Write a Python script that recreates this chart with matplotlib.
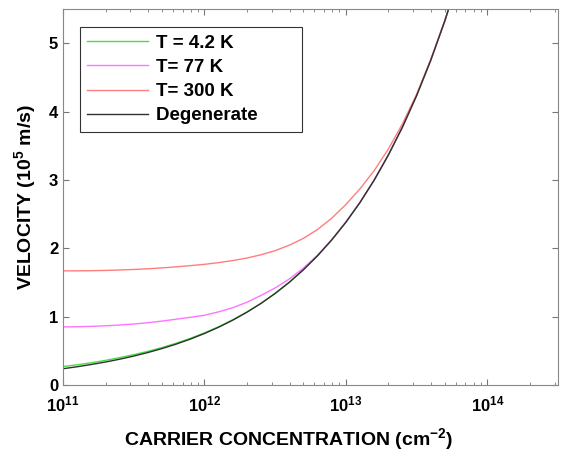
#!/usr/bin/env python3
"""Carrier velocity vs sheet carrier concentration at several temperatures."""

import matplotlib
import matplotlib.pyplot as plt
import numpy as np

matplotlib.use("Agg")

plt.rcParams["font.family"] = ["Liberation Sans", "DejaVu Sans"]
plt.rcParams["font.weight"] = "bold"
plt.rcParams["mathtext.fontset"] = "custom"
plt.rcParams["mathtext.rm"] = "Liberation Sans:bold"
plt.rcParams["mathtext.it"] = "Liberation Sans:bold"
plt.rcParams["mathtext.bf"] = "Liberation Sans:bold"

# log10 of carrier concentration (cm^-2)
log_n = [11.0, 11.1, 11.2, 11.3, 11.4, 11.5, 11.6, 11.7, 11.8, 11.9,
         12.0, 12.1, 12.2, 12.3, 12.4, 12.5, 12.6, 12.7, 12.8, 12.9,
         13.0, 13.1, 13.2, 13.3, 13.4, 13.5, 13.6, 13.7, 13.8]

# velocity in 1e5 m/s
v_4k = [0.270, 0.295, 0.325, 0.360, 0.400, 0.443, 0.492, 0.548, 0.611, 0.682,
        0.762, 0.852, 0.954, 1.068, 1.196, 1.341, 1.503, 1.686, 1.891, 2.122,
        2.380, 2.670, 2.996, 3.362, 3.772, 4.232, 4.749, 5.328, 5.978]
v_77k = [0.850, 0.852, 0.858, 0.866, 0.877, 0.892, 0.911, 0.935, 0.962, 0.990,
         1.020, 1.070, 1.130, 1.210, 1.310, 1.420, 1.550, 1.710, 1.900, 2.125,
         2.385, 2.672, 2.996, 3.362, 3.772, 4.232, 4.749, 5.328, 5.978]
v_300k = [1.670, 1.670, 1.672, 1.676, 1.682, 1.690, 1.700, 1.713, 1.728, 1.746,
          1.765, 1.790, 1.820, 1.857, 1.905, 1.965, 2.045, 2.145, 2.275, 2.440,
          2.640, 2.870, 3.135, 3.450, 3.820, 4.250, 4.760, 5.330, 5.978]
v_degen = [0.238, 0.267, 0.300, 0.336, 0.377, 0.423, 0.475, 0.533, 0.598, 0.671,
           0.753, 0.845, 0.948, 1.064, 1.193, 1.339, 1.502, 1.686, 1.891, 2.122,
           2.380, 2.670, 2.996, 3.362, 3.772, 4.232, 4.749, 5.328, 5.978]

# trailing spaces widen the legend box like the original
SERIES = [
    ("T = 4.2 K", v_4k, "#44dd44"),
    ("T= 77 K", v_77k, "#ff73ff"),
    ("T= 300 K", v_300k, "#ff7d7d"),
    ("Degenerate       ", v_degen, "#303030"),
]

fig = plt.figure(figsize=(5.61, 4.53), dpi=100)
ax = fig.add_axes([63 / 561, 68 / 453, 495 / 561, 376 / 453])

n = np.power(10.0, log_n)
for label, v, colour in SERIES:
    ax.plot(n, v, color=colour, lw=1.0, label=label)

ax.set_xscale("log")
ax.set_xlim(1e11, 10 ** 14.5)
ax.set_ylim(0, 5.5)
ax.set_yticks([0, 1, 2, 3, 4, 5])

ax.tick_params(which="both", direction="in", top=True, right=True,
               colors="#777777", labelcolor="black", labelsize=12)
ax.tick_params(which="major", length=4)
ax.tick_params(which="minor", length=2.5)
ax.tick_params(axis="x", pad=7)
for side in ax.spines.values():
    side.set_color("#888888")

ax.set_xlabel("CARRIER CONCENTRATION (cm$^{-2}$)", fontsize=14, fontweight="bold")
ax.set_ylabel("VELOCITY (10$^{5}$ m/s)", fontsize=14, fontweight="bold")
ax.xaxis.set_label_coords(0.455, -0.11)
ax.yaxis.set_label_coords(-0.05, 0.5)

leg = ax.legend(loc="upper left", bbox_to_anchor=(0.034, 0.952), fancybox=False,
                edgecolor="black", prop={"size": 13.5, "weight": "bold"},
                handlelength=3.25, handletextpad=0.4, borderpad=0.4,
                labelspacing=0.38, borderaxespad=0)
leg.get_frame().set_linewidth(0.8)

fig.savefig("out.png", dpi=100)
